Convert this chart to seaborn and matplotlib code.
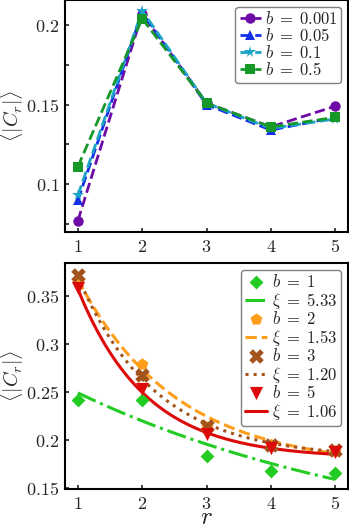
import numpy as np
import pandas as pd
import matplotlib
matplotlib.use("Agg")
import matplotlib.pyplot as plt
import seaborn as sns

# data
r = [1, 2, 3, 4, 5]

# top panel: <|C_r|> for small b
b_small = ["0.001", "0.05", "0.1", "0.5"]
c_b0001 = [0.077, 0.207, 0.151, 0.136, 0.149]
c_b005 = [0.090, 0.208, 0.150, 0.134, 0.142]
c_b01 = [0.093, 0.209, 0.151, 0.135, 0.141]
c_b05 = [0.111, 0.204, 0.151, 0.136, 0.142]

# bottom panel: <|C_r|> for large b and exponential fits A*exp(-r/xi)+C
b_large = ["1", "2", "3", "5"]
c_b1 = [0.242, 0.242, 0.183, 0.168, 0.166]
c_b2 = [0.364, 0.279, 0.213, 0.195, 0.189]
c_b3 = [0.372, 0.268, 0.214, 0.195, 0.190]
c_b5 = [0.358, 0.253, 0.206, 0.192, 0.187]
fit_xi = [5.33, 1.53, 1.20, 1.06]
fit_amp = [0.2056, 0.3756, 0.434, 0.452]
fit_off = [0.0785, 0.1717, 0.1813, 0.181]

top_yticks = [0.1, 0.15, 0.2]
bot_yticks = [0.15, 0.2, 0.25, 0.3, 0.35]

# style
sns.set_style("white")
plt.rcParams["font.family"] = ["DejaVu Serif"]
plt.rcParams["mathtext.fontset"] = "cm"
plt.rcParams["xtick.direction"] = "in"
plt.rcParams["ytick.direction"] = "in"

fig = plt.figure(figsize=(3.49, 5.26), dpi=100)
W, H = 349, 526
ax1 = fig.add_axes([65 / W, (H - 232) / H, 283 / W, 232 / H])
ax2 = fig.add_axes([65 / W, (H - 489) / H, 283 / W, 226 / H])

# ---- top panel
top_series = [c_b0001, c_b005, c_b01, c_b05]
top_colors = ["#6e0aa6", "#1430e6", "#1ca3c8", "#17992a"]
top_markers = ["o", "^", "*", "s"]
top_ms = [7.5, 7.5, 8.5, 6.5]
for vals, b, col, mk, ms in zip(top_series, b_small, top_colors, top_markers, top_ms):
    sns.lineplot(x=r, y=vals, ax=ax1, color=col, marker=mk, markersize=ms,
                 markeredgewidth=0, linestyle="--", linewidth=2, label=rf"$b\;=\;{b}$")

ax1.set_xlim(0.8, 5.2)
ax1.set_ylim(0.07, 0.2157)
ax1.set_xticks(r, labels=[f"${v}$" for v in r])
ax1.set_yticks(top_yticks, labels=[f"${v:g}$" for v in top_yticks])
ax1.set_yticks([0.075, 0.125, 0.175], minor=True)
ax1.set_ylabel(r"$\langle |C_r| \rangle$", fontsize=14.5, labelpad=0)
ax1.legend(loc="upper right", fontsize=12, handlelength=1.3, handletextpad=0.2,
           labelspacing=0.0, borderpad=0.25, borderaxespad=0.4,
           edgecolor="gray", fancybox=True, framealpha=1)

# ---- bottom panel
bot_series = [c_b1, c_b2, c_b3, c_b5]
bot_colors = ["#22cc22", "#ff9e1b", "#a3541c", "#dd0a0a"]
bot_markers = ["D", "p", "X", "v"]
bot_sizes = [50, 80, 110, 90]
bot_ls = ["-.", "--", ":", "-"]
r_fine = np.linspace(1, 5, 200)
for vals, b, col, mk, sz, ls, xi, A, C in zip(bot_series, b_large, bot_colors, bot_markers,
                                              bot_sizes, bot_ls, fit_xi, fit_amp, fit_off):
    sns.scatterplot(x=r, y=vals, ax=ax2, color=col, marker=mk, s=sz,
                    linewidth=0, label=rf"$b\;=\;{b}$", zorder=3)
    fit = pd.DataFrame({"r": r_fine, "c": A * np.exp(-r_fine / xi) + C})
    sns.lineplot(data=fit, x="r", y="c", ax=ax2, color=col, linestyle=ls,
                 linewidth=2.2, label=rf"$\xi\;=\;{xi:.2f}$")

ax2.set_xlim(0.8, 5.2)
ax2.set_ylim(0.149, 0.384)
ax2.set_xticks(r, labels=[f"${v}$" for v in r])
ax2.set_yticks(bot_yticks, labels=[f"${v:g}$" for v in bot_yticks])
ax2.set_ylabel(r"$\langle |C_r| \rangle$", fontsize=14.5, labelpad=0)
ax2.set_xlabel(r"$r$", fontsize=18, va="center")
ax2.xaxis.set_label_coords(0.5, -0.125)
ax2.legend(loc="upper right", fontsize=12, handlelength=1.3, handletextpad=0.3,
           labelspacing=0.0, borderpad=0.25, borderaxespad=0.4,
           edgecolor="gray", fancybox=True, framealpha=1)

for ax in (ax1, ax2):
    for s in ax.spines.values():
        s.set_linewidth(1.5)
        s.set_color("black")
    ax.tick_params(which="both", direction="in", left=True, bottom=True,
                   labelsize=13, length=3, width=1.2, pad=4)

fig.savefig("out.png", dpi=100)
